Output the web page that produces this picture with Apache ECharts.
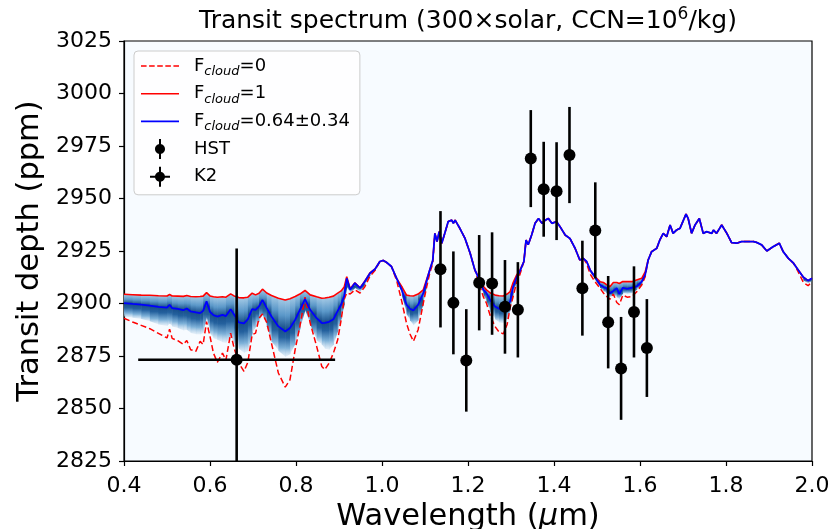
<!DOCTYPE html>
<html>
<head>
<meta charset="utf-8">
<script src="https://cdn.jsdelivr.net/npm/echarts@6/dist/echarts.min.js"></script>
<style>
  html, body { margin: 0; padding: 0; background: #ffffff; }
  #chart { width: 836px; height: 529px; }
</style>
</head>
<body>
<div id="chart"></div>
<script>
// Model wavelength grid (micron)
const wavelength = [
  0.400,0.420,0.440,0.460,0.480,0.500,0.506,0.512,0.525,0.538,
  0.546,0.555,0.567,0.577,0.584,0.592,0.600,0.608,0.617,0.629,
  0.637,0.648,0.656,0.667,0.679,0.688,0.698,0.706,0.714,0.722,
  0.732,0.743,0.759,0.775,0.786,0.798,0.809,0.821,0.833,0.848,
  0.860,0.867,0.877,0.887,0.897,0.905,0.912,0.918,0.926,0.937,
  0.949,0.960,0.972,0.984,0.995,1.003,1.011,1.022,1.034,1.046,
  1.057,1.065,1.073,1.084,1.096,1.104,1.111,1.118,1.123,1.128,
  1.133,1.139,1.146,1.154,1.162,1.166,1.170,1.181,1.193,1.205,
  1.216,1.228,1.236,1.243,1.252,1.263,1.272,1.282,1.291,1.298,
  1.305,1.313,1.321,1.330,1.335,1.340,1.348,1.356,1.364,1.372,
  1.380,1.387,1.395,1.406,1.414,1.426,1.437,1.449,1.460,1.468,
  1.476,1.484,1.495,1.507,1.515,1.522,1.530,1.538,1.546,1.552,
  1.560,1.570,1.581,1.592,1.604,1.612,1.619,1.627,1.639,1.646,
  1.654,1.662,1.670,1.677,1.685,1.693,1.707,1.712,1.720,1.728,
  1.738,1.747,1.755,1.767,1.771,1.778,1.790,1.802,1.813,1.825,
  1.836,1.852,1.864,1.871,1.883,1.895,1.910,1.924,1.933,1.945,
  1.957,1.968,1.980,1.991,2.000
];

// Transit depth (ppm), fully cloudy limb (F_cloud = 1)
const depthCloudy = [
  2904.4,2904.2,2904.0,2903.9,2903.7,2903.6,2904.3,2903.6,2903.5,2903.4,
  2903.8,2903.3,2903.2,2903.3,2903.5,2905.2,2903.6,2903.2,2903.0,2903.2,
  2903.0,2904.6,2903.6,2902.8,2902.7,2903.0,2904.9,2904.1,2904.9,2906.8,
  2905.0,2903.8,2902.5,2901.7,2902.3,2903.3,2904.5,2906.2,2904.1,2903.2,
  2902.5,2902.6,2903.0,2903.5,2904.9,2906.0,2907.8,2912.8,2907.0,2909.9,
  2907.5,2910.6,2914.6,2916.5,2920.0,2920.5,2919.5,2917.6,2912.0,2908.0,
  2904.0,2903.7,2903.6,2904.5,2906.5,2911.5,2916.0,2920.5,2933.4,2929.5,
  2934.2,2928.7,2933.4,2939.0,2939.7,2938.2,2939.7,2935.8,2931.0,2923.9,
  2916.0,2911.2,2908.1,2906.5,2905.0,2904.0,2903.7,2903.6,2904.5,2905.7,
  2910.0,2913.5,2916.0,2920.0,2930.2,2928.0,2932.6,2938.2,2940.5,2938.2,
  2939.7,2940.5,2938.2,2939.0,2936.6,2932.6,2931.0,2926.3,2920.7,2921.5,
  2920.0,2916.0,2912.8,2910.4,2910.0,2909.0,2908.0,2910.0,2910.0,2909.5,
  2910.5,2910.4,2910.4,2911.2,2912.0,2915.0,2920.7,2924.7,2926.3,2930.2,
  2933.4,2931.8,2937.4,2933.4,2935.0,2935.8,2942.6,2940.5,2933.4,2937.4,
  2940.5,2933.4,2934.2,2933.4,2935.0,2933.4,2937.4,2933.4,2929.0,2928.7,
  2929.5,2929.5,2929.5,2929.1,2927.9,2925.0,2927.1,2928.7,2924.7,2921.5,
  2919.2,2916.0,2912.5,2910.9,2912.0
];

// Posterior median, F_cloud = 0.64 +/- 0.34
const depthMean = [
  2900.2,2899.8,2899.5,2899.0,2898.4,2898.0,2899.4,2897.8,2897.4,2896.8,
  2897.6,2896.2,2895.8,2895.4,2896.5,2901.0,2896.0,2894.5,2893.8,2894.6,
  2894.0,2897.3,2894.8,2891.0,2890.5,2892.5,2897.3,2897.0,2898.6,2901.7,
  2897.8,2893.8,2889.1,2886.7,2888.3,2892.2,2897.0,2902.1,2897.0,2893.0,
  2890.7,2890.8,2891.3,2892.5,2896.5,2899.5,2903.5,2912.0,2906.5,2909.7,
  2907.3,2910.5,2914.4,2916.4,2920.0,2920.5,2919.5,2917.6,2912.0,2906.5,
  2899.4,2897.5,2896.7,2899.4,2904.9,2911.0,2916.0,2920.5,2933.4,2929.5,
  2934.2,2928.7,2933.4,2939.0,2939.7,2938.2,2939.7,2935.8,2931.0,2923.9,
  2916.0,2910.5,2906.5,2904.9,2901.5,2898.6,2897.5,2897.0,2898.5,2901.0,
  2908.0,2912.5,2915.5,2920.0,2930.2,2928.0,2932.6,2938.2,2940.5,2938.2,
  2939.7,2940.5,2938.2,2939.0,2936.6,2932.6,2931.0,2926.3,2920.7,2921.5,
  2920.0,2916.0,2912.8,2908.9,2907.8,2907.3,2904.9,2906.0,2907.3,2904.5,
  2907.5,2907.0,2907.5,2908.1,2910.4,2913.6,2920.7,2924.7,2926.3,2930.2,
  2933.4,2931.8,2937.4,2933.4,2935.0,2935.8,2942.6,2940.5,2933.4,2937.4,
  2940.5,2933.4,2934.2,2933.4,2935.0,2933.4,2937.4,2933.4,2929.0,2928.7,
  2929.5,2929.5,2929.5,2929.1,2927.9,2925.0,2927.1,2928.7,2924.7,2921.5,
  2919.2,2916.0,2912.5,2910.9,2912.0
];

// Lower edge of the shaded posterior spread
const depthLow = [
  2893.8,2893.2,2892.6,2891.5,2890.0,2889.3,2890.5,2889.0,2888.3,2887.2,
  2887.5,2885.9,2885.4,2885.2,2886.0,2893.8,2886.0,2883.5,2882.7,2881.5,
  2881.2,2884.5,2881.0,2878.5,2876.4,2877.5,2886.0,2889.0,2891.5,2895.0,
  2889.0,2882.0,2877.5,2874.5,2876.0,2881.0,2888.0,2897.0,2890.0,2882.5,
  2880.5,2878.5,2878.0,2880.5,2887.0,2893.0,2899.5,2908.0,2905.0,2907.5,
  2905.5,2909.0,2913.5,2916.0,2920.0,2920.5,2919.5,2917.6,2911.5,2904.0,
  2895.0,2892.0,2889.5,2892.0,2900.0,2909.0,2915.0,2920.0,2933.4,2929.5,
  2934.2,2928.7,2933.4,2939.0,2939.7,2938.2,2939.7,2935.8,2931.0,2923.9,
  2916.0,2909.0,2904.0,2901.0,2896.0,2892.5,2891.0,2890.6,2893.0,2897.0,
  2905.0,2911.0,2914.5,2920.0,2930.2,2928.0,2932.6,2938.2,2940.5,2938.2,
  2939.7,2940.5,2938.2,2939.0,2936.6,2932.6,2931.0,2926.3,2920.7,2921.5,
  2920.0,2915.0,2911.5,2907.5,2906.0,2905.0,2903.0,2904.0,2903.0,2902.0,
  2905.0,2904.5,2905.0,2906.5,2909.0,2913.0,2920.7,2924.7,2926.3,2930.2,
  2933.4,2931.8,2937.4,2933.4,2935.0,2935.8,2942.6,2940.5,2933.4,2937.4,
  2940.5,2933.4,2934.2,2933.4,2935.0,2933.4,2937.4,2933.4,2929.0,2928.7,
  2929.5,2929.5,2929.5,2929.1,2927.9,2925.0,2927.1,2928.7,2924.7,2921.5,
  2919.2,2916.0,2911.0,2909.5,2911.0
];

// Transit depth (ppm), cloud-free limb (F_cloud = 0)
const depthClear = [
  2893.0,2891.2,2889.6,2888.0,2885.8,2883.6,2887.8,2883.4,2882.3,2880.6,
  2882.4,2878.0,2877.2,2882.0,2880.5,2891.4,2884.3,2876.4,2872.0,2876.4,
  2873.0,2885.9,2878.8,2871.7,2867.7,2872.0,2885.1,2885.9,2893.0,2895.0,
  2891.0,2881.0,2866.9,2860.2,2863.7,2878.0,2889.1,2903.0,2890.7,2879.6,
  2870.0,2868.5,2871.6,2876.4,2882.7,2892.2,2902.0,2905.0,2904.5,2906.5,
  2905.0,2908.0,2913.0,2915.8,2920.0,2920.5,2919.5,2917.6,2911.0,2901.0,
  2890.6,2885.5,2882.0,2887.5,2900.1,2908.0,2914.4,2919.0,2933.4,2929.5,
  2934.2,2928.7,2933.4,2939.0,2939.7,2938.2,2939.7,2935.8,2931.0,2923.9,
  2916.0,2908.0,2903.0,2900.1,2894.0,2889.0,2886.5,2885.5,2890.0,2898.0,
  2903.3,2910.0,2914.0,2920.0,2930.2,2928.0,2932.6,2938.2,2940.5,2938.2,
  2939.7,2940.5,2938.2,2939.0,2936.6,2932.6,2931.0,2926.3,2920.7,2921.5,
  2919.0,2914.0,2910.5,2907.3,2905.0,2903.5,2902.0,2904.5,2900.5,2899.4,
  2904.0,2903.0,2903.3,2905.5,2908.8,2912.8,2920.7,2924.7,2926.3,2930.2,
  2933.4,2931.8,2937.4,2933.4,2935.0,2935.8,2942.6,2940.5,2933.4,2937.4,
  2940.5,2933.4,2934.2,2933.4,2935.0,2933.4,2937.4,2933.4,2929.0,2928.7,
  2929.5,2929.5,2929.5,2929.1,2927.9,2925.0,2927.1,2928.7,2924.7,2921.5,
  2919.2,2915.0,2910.0,2908.5,2910.5
];

// HST/WFC3 spectral points
const hstWave  = [1.136,1.166,1.196,1.226,1.256,1.286,1.316,1.346,1.376,1.406,1.436,1.466,1.496,1.526,1.556,1.586,1.616];
const hstDepth = [2916.3,2900.3,2872.9,2909.9,2909.5,2898.4,2897.0,2969.0,2954.4,2953.5,2970.7,2907.3,2934.8,2891.1,2869.1,2896.0,2878.8];
const hstErr   = [27.7,24.5,24.4,22.7,24.4,22.3,22.7,23.1,22.6,23.3,22.9,22.6,22.9,22.0,24.5,21.7,23.3];

// K2 broadband point (band centre, half bandwidth, depth, error)
const k2Wave = [0.662];
const k2HalfWidth = [0.229];
const k2Depth = [2873.2];
const k2Err = [53.0];

// Axis ranges and tick spacing
const xRange = [0.4, 2.0], xStep = 0.2;
const yRange = [2825, 3025], yStep = 25;

const FONT = 'DejaVu Sans';
const chart = echarts.init(document.getElementById('chart'), null, { renderer: 'canvas' });

const asPairs = ys => wavelength.map((w, i) => [w, ys[i]]);

// Shaded spread: one quad per grid interval, filled with a vertical gradient
// that is darkest at the posterior median and fades toward the lower edge.
function renderBand(params, api) {
  const i = api.value(2), j = i + 1;
  const t0 = api.coord([wavelength[i], depthCloudy[i]]);
  const t1 = api.coord([wavelength[j], depthCloudy[j]]);
  const b0 = api.coord([wavelength[i], depthLow[i]]);
  const b1 = api.coord([wavelength[j], depthLow[j]]);
  const m0 = api.coord([wavelength[i], depthMean[i]]);
  const m1 = api.coord([wavelength[j], depthMean[j]]);
  if (Math.max(b0[1] - t0[1], b1[1] - t1[1]) < 0.8) return null;
  const top = Math.min(t0[1], t1[1]);
  const bot = Math.max(b0[1], b1[1]);
  let f = ((m0[1] + m1[1]) / 2 - top) / (bot - top);
  f = Math.min(0.9, Math.max(0.1, f));
  const stops = [
    { offset: 0, color: '#a6cbe6' },
    { offset: f * 0.55, color: '#5b98c9' },
    { offset: f, color: '#174d87' },
    { offset: f + (1 - f) * 0.3, color: '#24619e' },
    { offset: f + (1 - f) * 0.68, color: '#7fb2d9' },
    { offset: 1, color: 'rgba(214,230,244,0.5)' }
  ];
  return {
    type: 'polygon',
    shape: { points: [[t0[0], t0[1]], [t1[0] + 0.6, t1[1]], [b1[0] + 0.6, b1[1]], [b0[0], b0[1]]] },
    style: { fill: new echarts.graphic.LinearGradient(0, 0, 0, 1, stops) }
  };
}

function renderHst(params, api) {
  const x = api.value(0), y = api.value(1), e = api.value(2);
  const c = api.coord([x, y]);
  const lo = api.coord([x, y - e]), hi = api.coord([x, y + e]);
  return {
    type: 'group',
    children: [
      { type: 'line', shape: { x1: c[0], y1: lo[1], x2: c[0], y2: hi[1] }, style: { stroke: '#000', lineWidth: 2.6 } },
      { type: 'circle', shape: { cx: c[0], cy: c[1], r: 6 }, style: { fill: '#000' } }
    ]
  };
}

function renderK2(params, api) {
  const x = api.value(0), y = api.value(1), e = api.value(2), w = api.value(3);
  const c = api.coord([x, y]);
  const lo = api.coord([x, y - e]), hi = api.coord([x, y + e]);
  const l = api.coord([x - w, y]), r = api.coord([x + w, y]);
  return {
    type: 'group',
    children: [
      { type: 'line', shape: { x1: l[0], y1: c[1], x2: r[0], y2: c[1] }, style: { stroke: '#000', lineWidth: 2.6 } },
      { type: 'line', shape: { x1: c[0], y1: lo[1], x2: c[0], y2: hi[1] }, style: { stroke: '#000', lineWidth: 2.6 } },
      { type: 'circle', shape: { cx: c[0], cy: c[1], r: 6 }, style: { fill: '#000' } }
    ]
  };
}

const legendText = {
  clear: 'F{sub|cloud}=0',
  cloudy: 'F{sub|cloud}=1',
  mean: 'F{sub|cloud}=0.64±0.34',
  HST: 'HST',
  K2: 'K2'
};

// Legend handles: short line samples and marker-with-error-bar glyphs
const dashedIcon = 'path://M0 0H5.5V1.5H0Z M8 0H13.5V1.5H8Z M16 0H21.5V1.5H16Z M24 0H29.5V1.5H24Z M32 0H37.5V1.5H32Z';
const solidIcon = 'path://M0 0H38V1.6H0Z';
const hstIcon = 'path://M9 0H11V20H9Z M15 10C15 12.76 12.76 15 10 15C7.24 15 5 12.76 5 10C5 7.24 7.24 5 10 5C12.76 5 15 7.24 15 10Z';
const k2Icon = 'path://M9 0H11V20H9Z M0 9H20V11H0Z M15 10C15 12.76 12.76 15 10 15C7.24 15 5 12.76 5 10C5 7.24 7.24 5 10 5C12.76 5 15 7.24 15 10Z';

chart.setOption({
  animation: false,
  backgroundColor: '#ffffff',
  title: {
    text: 'Transit spectrum (300×solar, CCN=10{sup|6}/kg)',
    left: 468,
    top: 6,
    textAlign: 'center',
    padding: 0,
    textStyle: {
      fontFamily: FONT, fontSize: 25, fontWeight: 'normal', color: '#000', lineHeight: 30,
      rich: { sup: { fontFamily: FONT, fontSize: 17, color: '#000', lineHeight: 17, padding: [0, 0, 12, 0] } }
    }
  },
  legend: {
    orient: 'vertical',
    left: 134,
    top: 51,
    itemWidth: 38,
    itemHeight: 20,
    itemGap: 3.7,
    padding: [3, 10, 6, 7],
    backgroundColor: 'rgba(255,255,255,0.8)',
    borderColor: '#cccccc',
    borderWidth: 1,
    borderRadius: 4,
    formatter: name => legendText[name],
    textStyle: {
      fontFamily: FONT, fontSize: 18, color: '#000', lineHeight: 24, padding: [0, 0, 0, 10],
      rich: { sub: { fontFamily: FONT, fontSize: 13, fontStyle: 'italic', color: '#000', lineHeight: 24, verticalAlign: 'bottom' } }
    },
    data: [
      { name: 'clear', icon: dashedIcon },
      { name: 'cloudy', icon: solidIcon },
      { name: 'mean', icon: solidIcon },
      { name: 'HST', icon: hstIcon },
      { name: 'K2', icon: k2Icon }
    ]
  },
  grid: {
    left: 124, right: 24, top: 41, bottom: 68,
    outerBoundsMode: 'none',
    containLabel: false,
    show: true, backgroundColor: '#f7fbff', borderColor: '#000', borderWidth: 1.2
  },
  xAxis: {
    type: 'value',
    min: xRange[0], max: xRange[1], interval: xStep,
    name: 'Wavelength ({it|μ}m)',
    nameLocation: 'middle',
    nameGap: 38,
    nameTextStyle: {
      fontFamily: FONT, fontSize: 30.5, color: '#000',
      rich: { it: { fontFamily: FONT, fontSize: 30.5, fontStyle: 'italic', color: '#000' } }
    },
    axisLine: { lineStyle: { color: '#000', width: 1.2 } },
    axisTick: { show: true, length: 5, lineStyle: { color: '#000', width: 1.2 } },
    axisLabel: { fontFamily: FONT, fontSize: 22, color: '#000', margin: 14, formatter: v => v.toFixed(1) },
    splitLine: { show: false }
  },
  yAxis: {
    type: 'value',
    min: yRange[0], max: yRange[1], interval: yStep,
    name: 'Transit depth (ppm)',
    nameLocation: 'middle',
    nameGap: 67,
    nameTextStyle: { fontFamily: FONT, fontSize: 30.5, color: '#000' },
    axisLine: { lineStyle: { color: '#000', width: 1.2 } },
    axisTick: { show: true, length: 5, lineStyle: { color: '#000', width: 1.2 } },
    axisLabel: { fontFamily: FONT, fontSize: 22, color: '#000', margin: 12, formatter: v => String(v) },
    splitLine: { show: false }
  },
  series: [
    {
      type: 'custom',
      name: 'spread',
      z: 1,
      clip: true,
      renderItem: renderBand,
      encode: { x: 0, y: 1 },
      data: wavelength.slice(0, -1).map((w, i) => [w, depthMean[i], i]),
      silent: true
    },
    {
      type: 'line', name: 'clear', z: 2, symbol: 'none',
      data: asPairs(depthClear),
      itemStyle: { color: '#ff0000' },
      lineStyle: { color: '#ff0000', width: 1.5, type: [6, 3] }
    },
    {
      type: 'line', name: 'cloudy', z: 3, symbol: 'none',
      data: asPairs(depthCloudy),
      itemStyle: { color: '#ff0000' },
      lineStyle: { color: '#ff0000', width: 1.6 }
    },
    {
      type: 'line', name: 'mean', z: 4, symbol: 'none',
      data: asPairs(depthMean),
      itemStyle: { color: '#0000ff' },
      lineStyle: { color: '#0000ff', width: 1.8 }
    },
    {
      type: 'custom', name: 'HST', z: 5, clip: true,
      renderItem: renderHst,
      encode: { x: 0, y: 1 },
      itemStyle: { color: '#000' },
      data: hstWave.map((w, i) => [w, hstDepth[i], hstErr[i]])
    },
    {
      type: 'custom', name: 'K2', z: 5, clip: true,
      renderItem: renderK2,
      encode: { x: 0, y: 1 },
      itemStyle: { color: '#000' },
      data: k2Wave.map((w, i) => [w, k2Depth[i], k2Err[i], k2HalfWidth[i]])
    }
  ]
});
</script>
</body>
</html>
